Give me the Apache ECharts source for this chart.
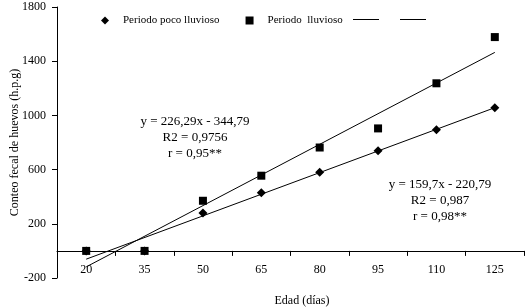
<!DOCTYPE html>
<html>
<head>
<meta charset="utf-8">
<script src="https://cdn.jsdelivr.net/npm/echarts@6/dist/echarts.min.js"></script>
<style>
html,body{margin:0;padding:0;background:#fff;}
#chart{width:527px;height:307px;}
</style>
</head>
<body>
<div id="chart"></div>
<script>
// edades (días)
var categories = ['20', '35', '50', '65', '80', '95', '110', '125'];
// conteo fecal (h.p.g)
var pocoLluvioso = [0, 0, 280, 430, 580, 740, 895, 1057];
var lluvioso = [0, 0, 370, 555, 763, 904, 1237, 1578];
// líneas de tendencia, extremos
var trendPoco = [['20', -61], ['125', 1057]];
var trendLluvioso = [['20', -118], ['125', 1465]];
var yTicks = {min: -200, max: 1800, interval: 400};

var eq1 = ['y = 226,29x - 344,79', 'R2 = 0,9756', 'r = 0,95**'];
var eq2 = ['y = 159,7x - 220,79', 'R2 = 0,987', 'r = 0,98**'];
var xTitle = 'Edad (días)';

var font = 'Liberation Serif';
var myChart = echarts.init(document.getElementById('chart'), null, {renderer: 'canvas'});

function eqText(lines, x, y) {
	return {
		type: 'text',
		x: x,
		y: y,
		style: {
			text: lines.join('\n'),
			font: '13px "' + font + '"',
			fill: '#000',
			textAlign: 'center',
			lineHeight: 16
		}
	};
}

var option = {
	animation: false,
	textStyle: {fontFamily: font, color: '#000'},
	grid: {left: 57, right: 3, top: 7, bottom: 29, outerBoundsMode: 'none', containLabel: false},
	legend: [{
		left: 96, top: 10,
		itemWidth: 8, itemHeight: 8, itemGap: 26,
		textStyle: {fontFamily: font, fontSize: 11, color: '#000', padding: [0, 0, 0, 9]},
		data: [
			{name: 'Periodo poco lluvioso', icon: 'diamond'},
			{name: 'Periodo  lluvioso', icon: 'rect'}
		]
	}, {
		left: 348, top: 14,
		itemWidth: 26, itemHeight: 1, itemGap: 21,
		formatter: function () { return ''; },
		data: [
			{name: 'Lineal (Periodo  lluvioso)', icon: 'rect'},
			{name: 'Lineal (Periodo poco lluvioso)', icon: 'rect'}
		]
	}],
	xAxis: {
		type: 'category',
		data: categories,
		boundaryGap: true,
		axisLine: {onZero: true, lineStyle: {color: '#000', width: 1}},
		axisTick: {show: true, length: 5, lineStyle: {color: '#000'}},
		axisLabel: {color: '#000', fontFamily: font, fontSize: 12, margin: -14}
	},
	yAxis: {
		type: 'value',
		min: yTicks.min, max: yTicks.max, interval: yTicks.interval,
		splitLine: {show: false},
		axisLine: {show: true, lineStyle: {color: '#000', width: 1}},
		axisTick: {show: true, length: 5, lineStyle: {color: '#000'}},
		axisLabel: {color: '#000', fontFamily: font, fontSize: 12, margin: 11,
			formatter: function (v) { return String(v); }},
		name: 'Conteo fecal de huevos (h.p.g)',
		nameLocation: 'middle',
		nameGap: 36,
		nameMoveOverlap: false,
		nameTextStyle: {color: '#000', fontFamily: font, fontSize: 12}
	},
	series: [{
		name: 'Lineal (Periodo  lluvioso)',
		type: 'line',
		data: trendLluvioso,
		symbol: 'none',
		lineStyle: {color: '#000', width: 1},
		itemStyle: {color: '#000'},
		z: 1
	}, {
		name: 'Lineal (Periodo poco lluvioso)',
		type: 'line',
		data: trendPoco,
		symbol: 'none',
		lineStyle: {color: '#000', width: 1},
		itemStyle: {color: '#000'},
		z: 1
	}, {
		name: 'Periodo poco lluvioso',
		type: 'scatter',
		data: pocoLluvioso,
		symbol: 'diamond',
		symbolSize: 9,
		itemStyle: {color: '#000', opacity: 1},
		z: 2
	}, {
		name: 'Periodo  lluvioso',
		type: 'scatter',
		data: lluvioso,
		symbol: 'rect',
		symbolSize: 8,
		itemStyle: {color: '#000', opacity: 1},
		z: 3
	}],
	graphic: [
		eqText(eq1, 195, 114),
		eqText(eq2, 440, 177),
		{
			type: 'text',
			x: 302,
			y: 301,
			style: {
				text: xTitle,
				font: '12px "' + font + '"',
				fill: '#000',
				textAlign: 'center',
				textVerticalAlign: 'middle'
			}
		}
	]
};

myChart.setOption(option);
</script>
</body>
</html>
